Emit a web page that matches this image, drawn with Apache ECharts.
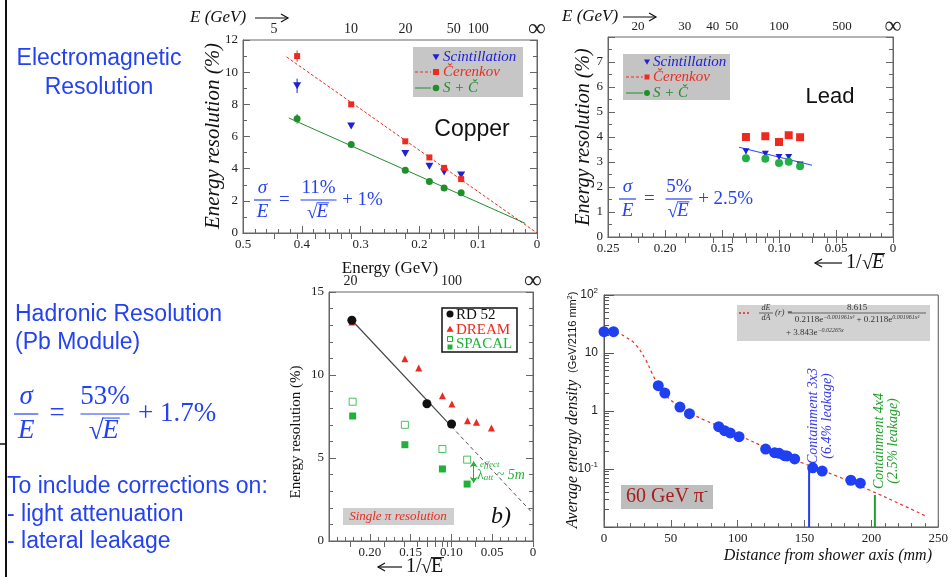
<!DOCTYPE html>
<html>
<head>
<meta charset="utf-8">
<script src="https://cdn.jsdelivr.net/npm/echarts@6.0.0/dist/echarts.min.js"></script>
<style>
  html, body { margin: 0; padding: 0; background: #fff; }
  #chart { width: 951px; height: 577px; }
</style>
</head>
<body>
<div id="chart"></div>
<script>
// ---- data ----
// Copper (EM), x = 1/sqrt(E)
var cuX = [0.408, 0.316, 0.224, 0.183, 0.158, 0.129];
var cuScint = [9.15, 6.65, 4.95, 4.15, 3.8, 3.6];
var cuCer = [11.0, 8.0, 5.7, 4.7, 4.05, 3.35];
var cuSC = [7.1, 5.5, 3.9, 3.2, 2.8, 2.5];
var cuScintErr = [0.45, 0.1, 0.1, 0.1, 0.1, 0.1];
var cuCerErr = [0.35, 0.1, 0.1, 0.1, 0.1, 0.1];
var cuSCErr = [0.3, 0.1, 0.05, 0.05, 0.05, 0.05];
var cuCerFitX = [0.426, 0.0];
var cuCerFitY = [10.95, 0.0];
var cuSCFitX = [0.422, 0.02];
var cuSCFitY = [7.15, 0.6];
var cuTopE = [5, 10, 20, 50, 100, Infinity];
var cuTopTicksE = [5, 6, 7, 8, 9, 10, 20, 30, 40, 50, 100];

// Lead (EM)
var pbX = [0.129, 0.112, 0.100, 0.0915, 0.0815];
var pbScint = [3.43, 3.33, 3.2, 3.2, 2.9];
var pbCer = [4.0, 4.03, 3.8, 4.07, 3.99];
var pbSC = [3.15, 3.13, 2.96, 3.01, 2.83];
var pbScintErr = [0.12, 0.12, 0.1, 0.12, 0.08];
var pbFitX = [0.135, 0.071];
var pbFitY = [3.59, 2.87];
var pbTopE = [20, 30, 40, 50, 100, 500, Infinity];
var pbTopTicksE = [20, 30, 40, 50, 60, 70, 80, 90, 100, 200, 300, 400, 500];

// Hadronic
var rd52X = [0.222, 0.130, 0.0998];
var rd52Y = [13.3, 8.27, 7.05];
var dreamX = [0.222, 0.157, 0.140, 0.111, 0.0994, 0.0803, 0.0693, 0.0509];
var dreamY = [13.2, 10.98, 10.42, 8.75, 8.25, 7.25, 7.15, 6.81];
var spacalX = [0.221, 0.157, 0.111, 0.0807];
var spacalOpenY = [8.39, 7.0, 5.54, 4.9];
var spacalFilledY = [7.53, 5.8, 4.34, 3.43];
var hadFitX = [0.222, 0.1];
var hadFitY = [13.3, 6.9];
var hadExtX = [0.1, 0.0];
var hadExtY = [6.9, 1.65];
var hadTopE = [20, 100, Infinity];
var hadTopTicksE = [20, 30, 40, 50, 60, 70, 80, 90, 100, 200];

// Lateral profile, 60 GeV pi-
var distX = [0, 7.1, 40.6, 45.5, 56.8, 63.9, 85.8, 90.2, 94.4, 101.0, 120.9, 127.6, 131.0, 135.0, 136.9, 142.6, 156.1, 163.2, 184.6, 191.7];
var density = [23.3, 23.3, 2.73, 2.04, 1.17, 0.90, 0.537, 0.458, 0.418, 0.361, 0.221, 0.191, 0.186, 0.170, 0.168, 0.149, 0.105, 0.092, 0.064, 0.057];
var profFitX = [0, 9, 16.5, 23.8, 31.2, 36, 41, 48.4, 55.8, 63.2, 75.5, 87.7, 100, 124.6, 149.2, 173.8, 198.4, 223, 241.4];
var profFitY = [23.5, 22.5, 18.6, 13.8, 7.6, 4.45, 2.7, 1.66, 1.25, 0.96, 0.69, 0.53, 0.39, 0.215, 0.125, 0.076, 0.0435, 0.024, 0.0151];
var cont3x3X = [153.4, 153.4];
var cont3x3Y = [0.01, 0.103];
var cont4x4X = [202.6, 202.6];
var cont4x4Y = [0.01, 0.0356];
var logMinorTicks = [0.02, 0.03, 0.04, 0.05, 0.06, 0.07, 0.08, 0.09, 0.2, 0.3, 0.4, 0.5, 0.6, 0.7, 0.8, 0.9,
                     2, 3, 4, 5, 6, 7, 8, 9, 20, 30, 40, 50, 60, 70, 80, 90];

var SERIF = '"Liberation Serif", "DejaVu Serif", serif';
var SANS = '"Liberation Sans", "DejaVu Sans", sans-serif';
var BLUE_TXT = '#2442f2';
var FRAME = '#666';

function pairs(xs, ys) { return xs.map(function (x, i) { return [x, ys[i]]; }); }
function invSqrt(e) { return e === Infinity ? 0 : 1 / Math.sqrt(e); }

function topAxis(grid, max, energies, tickEnergies, fontSize) {
    var labelPos = energies.map(invSqrt);
    return {
        gridIndex: grid, type: 'value', position: 'top', min: 0, max: max, inverse: true,
        splitLine: { show: false },
        axisLine: { show: true, lineStyle: { color: FRAME } },
        axisTick: { show: true, inside: true, length: 6, customValues: tickEnergies.map(invSqrt).concat([0]), lineStyle: { color: FRAME } },
        axisLabel: {
            customValues: labelPos, margin: 3, color: '#222', fontFamily: SERIF, fontSize: fontSize,
            lineHeight: fontSize + 2,
            formatter: function (v) {
                var best = 0;
                labelPos.forEach(function (p, i) { if (Math.abs(p - v) < Math.abs(labelPos[best] - v)) best = i; });
                var e = energies[best];
                return e === Infinity ? '{inf|∞}' : String(e);
            },
            rich: { inf: { fontSize: fontSize + 11, lineHeight: fontSize + 2, fontFamily: SERIF, color: '#222' } }
        }
    };
}

function valueAxis(grid, pos, min, max, interval, minorSplit, showLabels, fmt, extra) {
    var a = {
        gridIndex: grid, type: 'value', position: pos, min: min, max: max, interval: interval,
        splitLine: { show: false },
        axisLine: { show: true, onZero: false, lineStyle: { color: FRAME } },
        axisTick: { show: true, inside: true, length: 7, lineStyle: { color: FRAME } },
        minorTick: { show: minorSplit > 0, splitNumber: minorSplit || 5, length: 4, lineStyle: { color: FRAME } },
        axisLabel: { show: showLabels, color: '#222', fontFamily: SERIF, fontSize: 13, margin: 5, formatter: fmt }
    };
    return Object.assign(a, extra || {});
}

function errSeries(xi, yi, xs, ys, errs, color) {
    return {
        type: 'custom', xAxisIndex: xi, yAxisIndex: yi, z: 1, silent: true,
        data: xs.map(function (x, i) { return [x, ys[i], errs[i]]; }),
        renderItem: function (params, api) {
            var a = api.coord([api.value(0), api.value(1) - api.value(2)]);
            var b = api.coord([api.value(0), api.value(1) + api.value(2)]);
            return { type: 'line', shape: { x1: a[0], y1: a[1], x2: b[0], y2: b[1] }, style: { stroke: color, lineWidth: 1 } };
        }
    };
}

function fitLine(xi, yi, xs, ys, color, type, width) {
    return {
        type: 'line', xAxisIndex: xi, yAxisIndex: yi, data: pairs(xs, ys), symbol: 'none', silent: true, z: 1,
        lineStyle: { color: color, type: type, width: width || 1 }
    };
}

function scatter(xi, yi, xs, ys, symbol, size, color, extra) {
    return Object.assign({
        type: 'scatter', xAxisIndex: xi, yAxisIndex: yi, data: pairs(xs, ys), symbol: symbol, symbolSize: size,
        itemStyle: { color: color, opacity: 1 }, z: 3
    }, extra || {});
}

// ---- graphic helpers ----
function txt(x, y, text, font, fill, align, extra) {
    return Object.assign({
        type: 'text', x: x, y: y, silent: true,
        style: { text: text, font: font, fill: fill, align: align || 'center', verticalAlign: 'middle' }
    }, extra || {});
}
function hline(x1, x2, y, color, w, dash) {
    return { type: 'line', silent: true, shape: { x1: x1, y1: y, x2: x2, y2: y }, style: { stroke: color, lineWidth: w || 1, lineDash: dash || null } };
}
function box(x, y, w, h, fill, stroke) {
    return { type: 'rect', silent: true, shape: { x: x, y: y, width: w, height: h }, style: { fill: fill, stroke: stroke || null, lineWidth: stroke ? 1.5 : 0 } };
}
function sqrtE(cx, cy, size, color, italic) {
    return [
        txt(cx - size * 0.33, cy + size * 0.04, '√', size + 'px ' + SERIF, color),
        txt(cx + size * 0.2, cy, 'E', (italic ? 'italic ' : '') + size + 'px ' + SERIF, color),
        hline(cx - size * 0.1, cx + size * 0.55, cy - size * 0.47, color, 1)
    ];
}
function sigmaFormula(x0, yMid, size, num, numW, tail, color) {
    var f = size + 'px ' + SERIF, fi = 'italic ' + size + 'px ' + SERIF;
    var gap = size * 0.62;
    var fx = x0 + size * 0.45;
    var eqx = x0 + size * 1.6;
    var nx = x0 + size * 2.5 + numW / 2;
    var out = [
        txt(fx, yMid - gap, 'σ', fi, color),
        hline(fx - size * 0.45, fx + size * 0.45, yMid, color, 1.2),
        txt(fx, yMid + gap, 'E', fi, color),
        txt(eqx, yMid, '=', f, color),
        txt(nx, yMid - gap, num, f, color),
        hline(nx - numW / 2 - 1, nx + numW / 2 + 1, yMid, color, 1.2)
    ];
    out = out.concat(sqrtE(nx, yMid + gap, size, color, true));
    out.push(txt(nx + numW / 2 + size * 0.35, yMid, tail, f, color, 'left'));
    return out;
}
function arrowRight(x1, x2, y) {
    return [hline(x1, x2, y, '#111', 1.2),
        { type: 'polyline', silent: true, shape: { points: [[x2 - 7, y - 4], [x2, y], [x2 - 7, y + 4]] }, style: { stroke: '#111', lineWidth: 1.2, fill: null } }];
}
function arrowLeft(x1, x2, y) {
    return [hline(x1, x2, y, '#111', 1.2),
        { type: 'polyline', silent: true, shape: { points: [[x1 + 7, y - 4], [x1, y], [x1 + 7, y + 4]] }, style: { stroke: '#111', lineWidth: 1.2, fill: null } }];
}
function triDown(cx, cy, s, color) {
    return { type: 'polygon', silent: true, shape: { points: [[cx - s, cy - s * 0.8], [cx + s, cy - s * 0.8], [cx, cy + s * 0.9]] }, style: { fill: color } };
}
function triUp(cx, cy, s, color) {
    return { type: 'polygon', silent: true, shape: { points: [[cx - s, cy + s * 0.8], [cx + s, cy + s * 0.8], [cx, cy - s * 0.9]] }, style: { fill: color } };
}
function sq(cx, cy, s, color, open) {
    return { type: 'rect', silent: true, shape: { x: cx - s / 2, y: cy - s / 2, width: s, height: s }, style: open ? { fill: '#fff', stroke: color, lineWidth: 1 } : { fill: color } };
}
function dot(cx, cy, r, color) {
    return { type: 'circle', silent: true, shape: { cx: cx, cy: cy, r: r }, style: { fill: color } };
}

var C_BLUE = '#2020d8', C_RED = '#ee2a1e', C_GREEN = '#1f8f2a', C_GREEN2 = '#22b03a';

var graphics = [];
// slide decorations
graphics.push({ type: 'line', silent: true, shape: { x1: 6, y1: 0, x2: 6, y2: 577 }, style: { stroke: '#111', lineWidth: 2 } });
graphics.push(hline(0, 6, 444, '#111', 1.5));
// left slide text
var ST = '23px ' + SANS;
graphics.push(txt(99, 59, 'Electromagnetic', ST, BLUE_TXT));
graphics.push(txt(99, 88, 'Resolution', ST, BLUE_TXT));
graphics.push(txt(15, 315, 'Hadronic Resolution', ST, BLUE_TXT, 'left'));
graphics.push(txt(15, 343, '(Pb Module)', ST, BLUE_TXT, 'left'));
graphics = graphics.concat(sigmaFormula(14, 414, 27, '53%', 47, '+ 1.7%', BLUE_TXT));
graphics.push(txt(7, 487, 'To include corrections on:', ST, BLUE_TXT, 'left'));
graphics.push(txt(7, 515, '- light attenuation', ST, BLUE_TXT, 'left'));
graphics.push(txt(7, 542, '- lateral leakage', ST, BLUE_TXT, 'left'));

// chart 1 (copper) annotations
graphics.push(txt(190, 18, 'E (GeV)', 'italic 17px ' + SERIF, '#111', 'left'));
graphics = graphics.concat(arrowRight(255, 288, 18));
graphics.push(txt(213, 136, 'Energy resolution (%)', 'italic 21px ' + SERIF, '#111', 'center', { rotation: Math.PI / 2 }));
graphics.push(txt(390, 269, 'Energy (GeV)', '17px ' + SERIF, '#111'));
graphics.push(txt(472, 130, 'Copper', '23px ' + SANS, '#111'));
graphics = graphics.concat(sigmaFormula(254, 200, 19, '11%', 34, '+ 1%', BLUE_TXT));
graphics.push(box(413, 47, 110, 50, '#c6c6c6'));
graphics.push(triDown(436, 57, 3.5, C_BLUE));
graphics.push(txt(443, 57, 'Scintillation', 'italic 15px ' + SERIF, C_BLUE, 'left'));
graphics.push(hline(415, 431, 72, C_RED, 1, [3, 2]));
graphics.push(sq(436, 72, 6, C_RED));
graphics.push(txt(443, 72, 'Čerenkov', 'italic 15px ' + SERIF, C_RED, 'left'));
graphics.push(hline(415, 431, 88, C_GREEN, 1));
graphics.push(dot(436, 88, 3.3, C_GREEN));
graphics.push(txt(443, 88, 'S + Č', 'italic 15px ' + SERIF, C_GREEN, 'left'));

// chart 2 (lead) annotations
graphics.push(txt(562, 17, 'E (GeV)', 'italic 17px ' + SERIF, '#111', 'left'));
graphics = graphics.concat(arrowRight(623, 656, 17));
graphics.push(txt(584, 137, 'Energy resolution (%)', 'italic 20px ' + SERIF, '#111', 'center', { rotation: Math.PI / 2 }));
graphics = graphics.concat(arrowLeft(815, 842, 263));
graphics.push(txt(846, 263, '1/', '20px ' + SERIF, '#111', 'left'));
graphics = graphics.concat(sqrtE(874, 263, 20, '#111', true));
graphics.push(txt(830, 97, 'Lead', '22px ' + SANS, '#111'));
graphics = graphics.concat(sigmaFormula(619, 199, 19, '5%', 25, '+ 2.5%', BLUE_TXT));
graphics.push(box(623, 54, 107, 46, '#c4c4c4'));
graphics.push(triDown(647, 62, 3, C_BLUE));
graphics.push(txt(653, 62, 'Scintillation', 'italic 15px ' + SERIF, C_BLUE, 'left'));
graphics.push(hline(626, 643, 77, C_RED, 1, [3, 2]));
graphics.push(sq(647, 77, 5, C_RED));
graphics.push(txt(653, 77, 'Čerenkov', 'italic 15px ' + SERIF, C_RED, 'left'));
graphics.push(hline(626, 643, 93, C_GREEN, 1));
graphics.push(dot(647, 93, 3, C_GREEN));
graphics.push(txt(653, 93, 'S + Č', 'italic 15px ' + SERIF, C_GREEN, 'left'));

// chart 3 (hadronic) annotations
graphics.push(txt(296, 432, 'Energy resolution (%)', '15px ' + SERIF, '#111', 'center', { rotation: Math.PI / 2 }));
graphics = graphics.concat(arrowLeft(378, 402, 567));
graphics.push(txt(406, 567, '1/', '20px ' + SERIF, '#111', 'left'));
graphics = graphics.concat(sqrtE(433, 567, 20, '#111', false));
graphics.push(box(442, 308, 75, 44, '#fff', '#111'));
graphics.push(dot(450, 314, 3.5, '#111'));
graphics.push(txt(456, 315, 'RD 52', '15px ' + SERIF, '#111', 'left'));
graphics.push(triUp(450, 329, 3.5, C_RED));
graphics.push(txt(456, 330, 'DREAM', '15px ' + SERIF, C_RED, 'left'));
graphics.push(sq(450, 339, 5, C_GREEN2, true));
graphics.push(sq(450, 347, 5, C_GREEN2));
graphics.push(txt(456, 344, 'SPACAL', '15px ' + SERIF, C_GREEN2, 'left'));
graphics.push(box(343, 508, 111, 17, '#cfcfcf'));
graphics.push(txt(398, 517, 'Single π resolution', 'italic 13px ' + SERIF, C_RED));
graphics.push(txt(501, 517, 'b)', 'italic 24px ' + SERIF, '#111'));
graphics.push(txt(480, 465, 'effect', 'italic 9px ' + SERIF, C_GREEN2, 'left'));
graphics.push({
    type: 'text', x: 477, y: 475, silent: true,
    style: {
        text: '{a|λ}{b|att}{c| ~ 5m}', verticalAlign: 'middle', align: 'left', fill: C_GREEN2,
        rich: {
            a: { font: '14px ' + SERIF, fill: C_GREEN2 },
            b: { font: 'italic 9px ' + SERIF, fill: C_GREEN2, padding: [6, 0, 0, 0] },
            c: { font: 'italic 14px ' + SERIF, fill: C_GREEN2 }
        }
    }
});

// chart 4 (profile) annotations
graphics.push({
    type: 'text', x: 573, y: 410, rotation: Math.PI / 2, silent: true,
    style: {
        text: '{a|Average energy density}  {b|(GeV/2116 mm}{s|2}{b|)}', align: 'center', verticalAlign: 'middle',
        rich: {
            a: { font: 'italic 16px ' + SERIF, fill: '#111' },
            b: { font: '11px ' + SANS, fill: '#111' },
            s: { font: '7px ' + SANS, fill: '#111', padding: [0, 0, 6, 0] }
        }
    }
});
graphics.push(txt(932, 556, 'Distance from shower axis (mm)', 'italic 16px ' + SERIF, '#111', 'right'));
graphics.push(box(621, 485, 92, 24, '#bdbdbd'));
graphics.push({
    type: 'text', x: 667, y: 497, silent: true,
    style: {
        text: '{a|60 GeV π}{s|-}', align: 'center', verticalAlign: 'middle',
        rich: {
            a: { font: '20px ' + SERIF, fill: '#a81c1c' },
            s: { font: '12px ' + SERIF, fill: '#a81c1c', padding: [0, 0, 10, 0] }
        }
    }
});
graphics.push(txt(820, 416, 'Containment 3x3\n(6.4% leakage)', 'italic 14px ' + SERIF, '#3838ee', 'center', { rotation: Math.PI / 2 }));
graphics.push(txt(886, 441, 'Containment 4x4\n(2.5% leakage)', 'italic 14px ' + SERIF, '#22a02a', 'center', { rotation: Math.PI / 2 }));
graphics.push(box(737, 305, 193, 36, '#d2d2d2'));
graphics.push(hline(739, 749, 313, '#e82020', 1.3, [2, 2]));
graphics.push(txt(766, 308, 'dE', 'italic 8px ' + SERIF, '#333'));
graphics.push(hline(759, 773, 313, '#333', 0.7));
graphics.push(txt(766, 318, 'dA', 'italic 8px ' + SERIF, '#333'));
graphics.push(txt(775, 313, '(r) =', 'italic 9px ' + SERIF, '#333', 'left'));
graphics.push(txt(857, 308, '8.615', '9px ' + SERIF, '#333'));
graphics.push(hline(788, 926, 313, '#333', 0.7));
graphics.push({
    type: 'text', x: 857, y: 320, silent: true,
    style: {
        text: '{a|0.2118e}{s|−0.001961x²}{a| + 0.2118e}{s|0.001961x²}', align: 'center', verticalAlign: 'middle',
        rich: { a: { font: '9px ' + SERIF, fill: '#333' }, s: { font: 'italic 6px ' + SERIF, fill: '#333', padding: [0, 0, 5, 0] } }
    }
});
graphics.push({
    type: 'text', x: 786, y: 333, silent: true,
    style: {
        text: '{a|+ 3.843e}{s|−0.02265x}', align: 'left', verticalAlign: 'middle',
        rich: { a: { font: '9px ' + SERIF, fill: '#333' }, s: { font: 'italic 6px ' + SERIF, fill: '#333', padding: [0, 0, 5, 0] } }
    }
});

var chartDom = document.getElementById('chart');
var myChart = echarts.init(chartDom);

var fmt1 = function (v) { return v === 0 ? '0' : v.toFixed(1); };
var fmt2 = function (v) { return v === 0 ? '0' : v.toFixed(2); };
var fmtHad = function (v) { return v === 0 ? '0' : (Math.abs(v - 0.25) < 1e-9 ? '' : v.toFixed(2)); };
var fmtPbY = function (v) { return v === 8 ? '' : String(v); };
var fmtLog = function (v) {
    var p = Math.round(Math.log10(v));
    if (p === 2) return '10{s|2}';
    if (p === 1) return '10';
    if (p === 0) return '1';
    if (p === -1) return '10{s|-1}';
    return '';
};

var option = {
    animation: false,
    backgroundColor: '#fff',
    grid: [
        { left: 243, top: 40, width: 294, height: 193, show: true, borderColor: FRAME, borderWidth: 1 },
        { left: 608, top: 37, width: 285, height: 200, show: true, borderColor: FRAME, borderWidth: 1 },
        { left: 329, top: 292, width: 204, height: 249, show: true, borderColor: FRAME, borderWidth: 1 },
        { left: 604, top: 295, width: 339, height: 232, show: true, borderColor: '#555', borderWidth: 1 }
    ],
    xAxis: [
        valueAxis(0, 'bottom', 0, 0.5, 0.1, 5, true, fmt1, { inverse: true }),
        topAxis(0, 0.5, cuTopE, cuTopTicksE, 14),
        valueAxis(1, 'bottom', 0, 0.25, 0.05, 5, true, fmt2, { inverse: true }),
        topAxis(1, 0.25, pbTopE, pbTopTicksE, 13),
        valueAxis(2, 'bottom', 0, 0.25, 0.05, 5, true, fmtHad, { inverse: true }),
        topAxis(2, 0.25, hadTopE, hadTopTicksE, 14),
        valueAxis(3, 'bottom', 0, 250, 50, 5, true, null, {}),
        { gridIndex: 3, type: 'value', position: 'top', min: 0, max: 250, show: false }
    ],
    yAxis: [
        valueAxis(0, 'left', 0, 12, 2, 2, true, null),
        valueAxis(0, 'right', 0, 12, 2, 2, false, null),
        valueAxis(1, 'left', 0, 8, 1, 2, true, fmtPbY),
        valueAxis(1, 'right', 0, 8, 1, 2, false, null),
        valueAxis(2, 'left', 0, 15, 5, 5, true, null),
        valueAxis(2, 'right', 0, 15, 5, 5, false, null),
        {
            gridIndex: 3, type: 'log', logBase: 10, position: 'left', min: 0.01, max: 100,
            splitLine: { show: false },
            axisLine: { show: true, onZero: false, lineStyle: { color: '#555' } },
            axisTick: { show: true, inside: true, length: 10, lineStyle: { color: '#555' } },
            axisLabel: {
                color: '#222', fontFamily: SANS, fontSize: 12, margin: 6, formatter: fmtLog,
                rich: { s: { fontSize: 8, fontFamily: SANS, color: '#222', padding: [0, 0, 8, 0] } }
            }
        },
        {
            gridIndex: 3, type: 'log', logBase: 10, position: 'left', min: 0.01, max: 100,
            splitLine: { show: false }, axisLine: { show: false },
            axisTick: { show: true, inside: true, length: 5, customValues: logMinorTicks, lineStyle: { color: '#555' } },
            axisLabel: { show: false }
        }
    ],
    graphic: { elements: graphics },
    series: [
        // copper
        errSeries(0, 0, cuX, cuScint, cuScintErr, C_BLUE),
        errSeries(0, 0, cuX, cuCer, cuCerErr, C_RED),
        errSeries(0, 0, cuX, cuSC, cuSCErr, C_GREEN),
        fitLine(0, 0, cuCerFitX, cuCerFitY, C_RED, [3, 2], 1),
        fitLine(0, 0, cuSCFitX, cuSCFitY, C_GREEN, 'solid', 1),
        scatter(0, 0, cuX, cuScint, 'triangle', [8, 7], C_BLUE, { symbolRotate: 180 }),
        scatter(0, 0, cuX, cuCer, 'rect', 6, C_RED),
        scatter(0, 0, cuX, cuSC, 'circle', 7, C_GREEN),
        // lead
        errSeries(2, 2, pbX, pbScint, pbScintErr, C_BLUE),
        fitLine(2, 2, pbFitX, pbFitY, '#3050f0', 'solid', 1.2),
        scatter(2, 2, pbX, pbCer, 'rect', 8, C_RED),
        scatter(2, 2, pbX, pbScint, 'triangle', [7, 6], C_BLUE, { symbolRotate: 180 }),
        scatter(2, 2, pbX, pbSC, 'circle', 8, '#22b044'),
        // hadronic
        fitLine(4, 4, hadFitX, hadFitY, '#444', 'solid', 1.2),
        fitLine(4, 4, hadExtX, hadExtY, '#555', [4, 3], 1),
        scatter(4, 4, dreamX, dreamY, 'triangle', 7, C_RED),
        scatter(4, 4, rd52X, rd52Y, 'circle', 9, '#111'),
        scatter(4, 4, spacalX, spacalOpenY, 'rect', 7, '#fff', { itemStyle: { color: '#fff', borderColor: C_GREEN2, borderWidth: 1 } }),
        scatter(4, 4, spacalX, spacalFilledY, 'rect', 7, C_GREEN2, {
            markLine: {
                silent: true, symbol: ['arrow', 'arrow'], symbolSize: 6, label: { show: false },
                lineStyle: { color: C_GREEN2, type: 'solid', width: 1 },
                data: [[{ coord: [0.0727, 4.8] }, { coord: [0.0727, 3.5] }]]
            }
        }),
        // profile
        fitLine(6, 6, profFitX, profFitY, '#e83030', [3, 3], 1.2),
        fitLine(6, 6, cont3x3X, cont3x3Y, '#2a3cf0', 'solid', 2),
        fitLine(6, 6, cont4x4X, cont4x4Y, '#22a02a', 'solid', 2),
        scatter(6, 6, distX, density, 'circle', 11, '#1f3ff2')
    ]
};
option.series.forEach(function (s) { if (s.type === 'line') s.smooth = (s.data.length > 3); });

myChart.setOption(option);
</script>
</body>
</html>
